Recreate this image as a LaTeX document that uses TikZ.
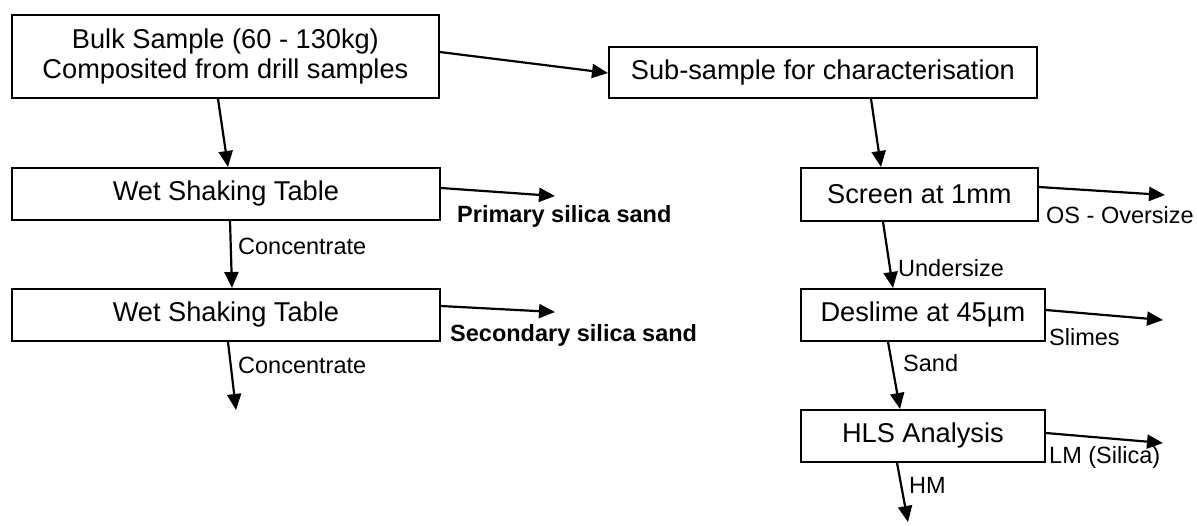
\documentclass[tikz,border=0pt]{standalone}
\usepackage{fontspec}
\setmainfont{Liberation Sans}
\usetikzlibrary{arrows.meta}
\begin{document}
\begin{tikzpicture}[x=1pt,y=-1pt,
  box/.style={draw=black,line width=1.8pt,rectangle,inner sep=0pt,anchor=north west,align=center,font=\fontsize{27.2}{30.5}\selectfont},
  arr/.style={line width=2.2pt,-{Triangle[length=16pt,width=14pt]}},
  lbl/.style={anchor=west,inner sep=0pt,font=\fontsize{23.5}{26}\selectfont},
  blbl/.style={anchor=west,inner sep=0pt,font=\fontsize{23.5}{26}\selectfont\bfseries}]
\useasboundingbox (0,0) rectangle (1197,525);
% boxes
\node[box,minimum width=427pt,minimum height=83pt] (bulk) at (11,14) {};
\node[font=\fontsize{27.2}{30.5}\selectfont,align=center,inner sep=0pt] (bulkt) at (bulk.center) {Bulk Sample (60 - 130kg)\\Composited from drill samples};
\node[box,minimum width=428pt,minimum height=51pt] (sub) at (608,46) {Sub-sample for characterisation};
\node[box,minimum width=428pt,minimum height=52pt] (wsa) at (11,167) {Wet Shaking Table};
\node[box,minimum width=428pt,minimum height=52pt] (wsb) at (11,288) {Wet Shaking Table};
\node[box,minimum width=237pt,minimum height=53pt] (scr) at (800,167) {Screen at 1mm};
\node[box,minimum width=244pt,minimum height=52pt] (des) at (800,288) {Deslime at 45µm};
\node[box,minimum width=244pt,minimum height=52pt] (hls) at (800,409) {HLS Analysis};
% free ends
\coordinate (pend) at (555,196);
\coordinate (send) at (555,312);
\coordinate (cend) at (236,410);
\coordinate (osend) at (1165,195);
\coordinate (slend) at (1163,320);
\coordinate (lmend) at (1163,443);
\coordinate (hmend) at (908,522);
% connectors
\draw[arr] ([yshift=-38pt]bulk.north east) -- ([yshift=-27pt]sub.north west);
\draw[arr] ([xshift=207pt]bulk.south west) -- ([xshift=217pt]wsa.north west);
\draw[arr] ([xshift=219pt]wsa.south west) -- ([xshift=221pt]wsb.north west);
\draw[arr] ([xshift=217pt]wsb.south west) -- (cend);
\draw[arr] ([yshift=-21pt]wsa.north east) -- (pend);
\draw[arr] ([yshift=-18pt]wsb.north east) -- (send);
\draw[arr] ([xshift=263pt]sub.south west) -- ([xshift=81pt]scr.north west);
\draw[arr] ([xshift=83pt]scr.south west) -- ([xshift=93pt]des.north west);
\draw[arr] ([xshift=88pt]des.south west) -- ([xshift=100pt]hls.north west);
\draw[arr] ([xshift=97pt]hls.south west) -- (hmend);
\draw[arr] ([yshift=-20pt]scr.north east) -- (osend);
\draw[arr] ([yshift=-22pt]des.north east) -- (slend);
\draw[arr] ([yshift=-24pt]hls.north east) -- (lmend);
% labels
\node[lbl] (c1) at (238,246) {Concentrate};
\node[lbl] (c2) at (238,365) {Concentrate};
\node[blbl] (ps) at (457,216) {Primary silica sand};
\node[blbl] (ss) at (450,335) {Secondary silica sand};
\node[lbl] (os) at (1046,215) {OS - Oversize};
\node[lbl] (us) at (898,268) {Undersize};
\node[lbl] (sl) at (1049,337) {Slimes};
\node[lbl] (sa) at (903,363) {Sand};
\node[lbl] (lm) at (1049,457) {LM (Silica)};
\node[lbl] (hm) at (909,485) {HM};
\end{tikzpicture}
\end{document}
